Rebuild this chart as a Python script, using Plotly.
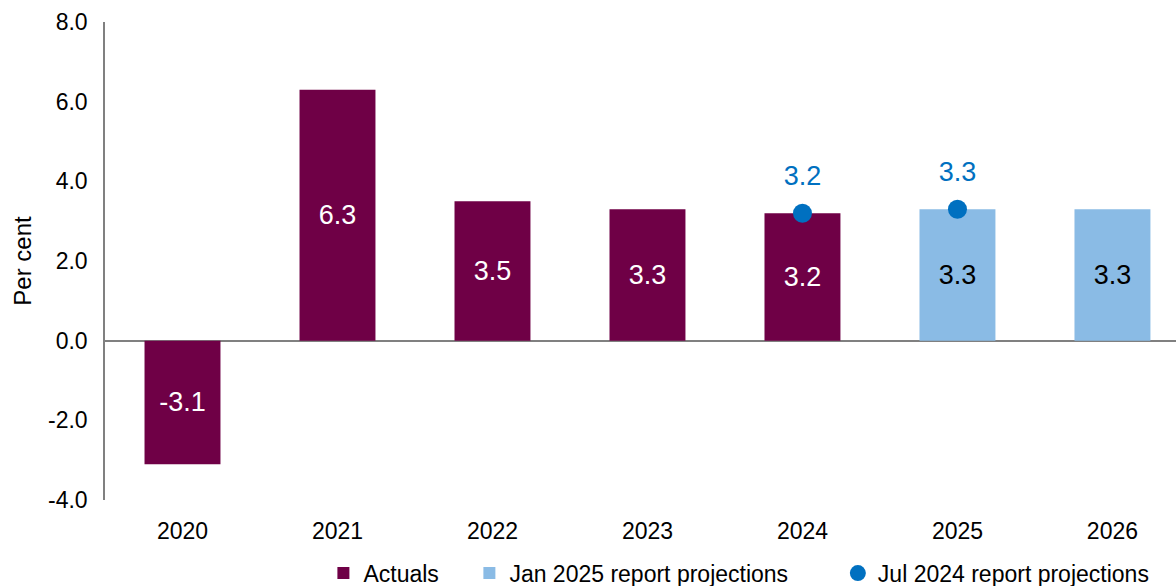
import plotly.graph_objects as go

years_actual = ["2020", "2021", "2022", "2023", "2024"]
values_actual = [-3.1, 6.3, 3.5, 3.3, 3.2]
years_proj = ["2025", "2026"]
values_proj = [3.3, 3.3]
years_jul = ["2024", "2025"]
values_jul = [3.2, 3.3]
all_years = ["2020", "2021", "2022", "2023", "2024", "2025", "2026"]
y_ticks = [-4, -2, 0, 2, 4, 6, 8]

FONT = "Arial, Liberation Sans, sans-serif"
NB = "\u00a0"

fig = go.Figure()
fig.add_trace(go.Bar(
    x=years_actual, y=values_actual, name="Actuals" + NB * 4,
    marker=dict(color="#6F0046", line=dict(width=0)),
    text=[f"{v:.1f}" for v in values_actual], textposition="inside",
    insidetextanchor="middle", textangle=0,
    textfont=dict(color="white", size=27, family=FONT),
    width=0.49,
))
fig.add_trace(go.Bar(
    x=years_proj, y=values_proj, name="Jan 2025 report projections" + NB * 7,
    marker=dict(color="#8ABBE5", line=dict(width=0)),
    text=[f"{v:.1f}" for v in values_proj], textposition="inside",
    insidetextanchor="middle", textangle=0,
    textfont=dict(color="black", size=27, family=FONT),
    width=0.49,
))
fig.add_trace(go.Scatter(
    x=years_jul, y=values_jul, name="Jul 2024 report projections",
    mode="markers",
    marker=dict(color="#0070C0", size=19),
))
fig.add_trace(go.Scatter(
    x=years_jul, y=values_jul, showlegend=False, hoverinfo="skip",
    mode="markers+text",
    marker=dict(color="#0070C0", size=33, opacity=0),
    text=[f"{v:.1f}" for v in values_jul], textposition="top center",
    textfont=dict(color="#0070C0", size=27, family=FONT),
))

fig.update_layout(
    width=1176, height=586,
    margin=dict(l=105, r=0, t=22, b=86, autoexpand=False),
    paper_bgcolor="white", plot_bgcolor="white",
    barmode="overlay",
    font=dict(family=FONT, color="black", size=23),
    showlegend=True,
    legend=dict(orientation="h", xref="container", yref="container",
                x=0.275, xanchor="left", y=0.022, yanchor="middle",
                font=dict(size=23, family=FONT), itemwidth=30, traceorder="normal",
                bgcolor="rgba(0,0,0,0)"),
    uniformtext=dict(mode=False),
)
fig.update_xaxes(
    type="category", categoryorder="array", categoryarray=all_years,
    range=[-0.5, 6.41], showgrid=False, showline=False, ticks="",
    tickfont=dict(size=23, family=FONT), ticklabelstandoff=15, automargin=False,
)
fig.update_yaxes(
    range=[-4, 8], tickvals=y_ticks, ticktext=[f"{v:.1f}" for v in y_ticks],
    showgrid=False, showline=True, linecolor="#808080", linewidth=1.5,
    zeroline=True, zerolinecolor="#808080", zerolinewidth=1.5,
    ticks="", tickfont=dict(size=23, family=FONT), ticklabelstandoff=11,
    title=dict(text="Per cent", font=dict(size=24, family=FONT), standoff=10),
    automargin=True,
)
fig.write_html("out.html")
